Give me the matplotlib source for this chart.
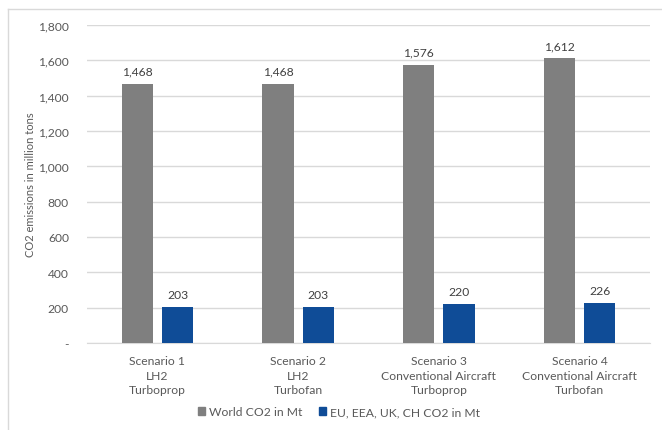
import matplotlib
matplotlib.use("Agg")
import matplotlib.pyplot as plt
from matplotlib.lines import Line2D
from matplotlib.patches import Patch
import numpy as np

# data
scenarios = ["Scenario 1\nLH2\nTurboprop",
             "Scenario 2\nLH2\nTurbofan",
             "Scenario 3\nConventional Aircraft\nTurboprop",
             "Scenario 4\nConventional Aircraft\nTurbofan"]
world_co2 = [1468, 1468, 1576, 1612]
europe_co2 = [203, 203, 220, 226]
series_names = ["World CO2 in Mt", "EU, EEA, UK, CH CO2 in Mt"]
y_ticks = [0, 200, 400, 600, 800, 1000, 1200, 1400, 1600, 1800]

plt.rcParams["font.family"] = ["Lato", "DejaVu Sans"]
text_col = "#595959"
grey = "#7f7f7f"
blue = "#0f4c97"
fs = 8.7

W, H = 662, 431
fig = plt.figure(figsize=(W / 100, H / 100), dpi=100)

# chart border (left and top visible, rest runs off the image)
fig.add_artist(Line2D([8 / W, 8 / W], [0, 1 - 10 / H], color="#d9d9d9", lw=1))
fig.add_artist(Line2D([8 / W, 1], [1 - 10 / H, 1 - 10 / H], color="#d9d9d9", lw=1))

ax = fig.add_axes([87 / W, 1 - 344 / H, (650 - 87) / W, (344 - 26) / H])

x = np.arange(len(scenarios))
bw = 0.222
off = 0.143
b1 = ax.bar(x - off, world_co2, bw, color=grey, zorder=3)
b2 = ax.bar(x + off, europe_co2, bw, color=blue, zorder=3)

for bars, vals in ((b1, world_co2), (b2, europe_co2)):
    for rect, v in zip(bars, vals):
        ax.annotate(f"{v:,}", (rect.get_x() + rect.get_width() / 2, v),
                    xytext=(0, 5), textcoords="offset points",
                    ha="center", va="bottom", fontsize=fs, color="#404040")

ax.set_xlim(-0.5, len(scenarios) - 0.5)
ax.set_ylim(0, 1800)
ax.set_yticks(y_ticks)
ax.set_yticklabels(["-" if t == 0 else f"{t:,}" for t in y_ticks])
ax.set_xticks(x)
ax.set_xticklabels(scenarios, linespacing=1.38)
ax.tick_params(axis="both", length=0, labelsize=fs, labelcolor=text_col)
ax.tick_params(axis="y", pad=13)
ax.tick_params(axis="x", pad=9)
ax.grid(axis="y", color="#d9d9d9", lw=1, zorder=0)
for s in ["top", "right", "left"]:
    ax.spines[s].set_visible(False)
ax.spines["bottom"].set_color("#d9d9d9")

ax.set_ylabel("CO2 emissions in million tons", fontsize=8, color=text_col)
ax.yaxis.set_label_coords((36 - 87) / (650 - 87), 0.5)

handles = [Patch(color=grey), Patch(color=blue)]
fig.legend(handles, series_names, loc="center", bbox_to_anchor=(339 / W, 1 - 413 / H),
           ncol=2, frameon=False, fontsize=fs, labelcolor=text_col,
           handlelength=0.6, handleheight=0.6, handletextpad=0.3, columnspacing=1.4)

fig.savefig("out.png", dpi=100)
